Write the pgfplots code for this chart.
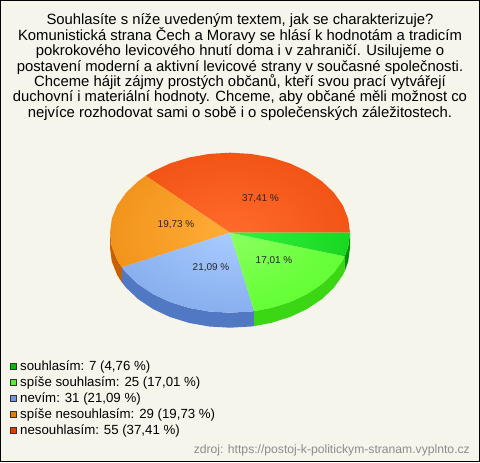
\documentclass[border=0pt]{standalone}
\usepackage{pgfplots}
\pgfplotsset{compat=1.18}
\usepackage{fontspec}
\setmainfont{Liberation Sans}
\definecolor{bgc}{RGB}{245,245,236}
\definecolor{sG}{RGB}{0,190,0}
\definecolor{sL}{RGB}{85,238,50}
\definecolor{sB}{RGB}{110,150,225}
\definecolor{sO}{RGB}{230,125,0}
\definecolor{sR}{RGB}{230,60,0}
\definecolor{wG}{RGB}{0,150,0}
\definecolor{wL}{RGB}{60,215,20}
\definecolor{wB}{RGB}{80,120,195}
\definecolor{wO}{RGB}{200,95,0}
\pgfdeclareradialshading{pG}{\pgfpointorigin}{rgb(0bp)=(0.2,0.95,0.25); rgb(50bp)=(0,0.74,0)}
\pgfdeclareradialshading{pL}{\pgfpointorigin}{rgb(0bp)=(0.55,1,0.38); rgb(22bp)=(0.4,1,0.22); rgb(50bp)=(0.33,0.93,0.15)}
\pgfdeclareradialshading{pB}{\pgfpointorigin}{rgb(0bp)=(0.66,0.8,1); rgb(50bp)=(0.41,0.57,0.87)}
\pgfdeclareradialshading{pO}{\pgfpointorigin}{rgb(0bp)=(1,0.68,0.22); rgb(50bp)=(0.9,0.48,0)}
\pgfdeclareradialshading{pR}{\pgfpointorigin}{rgb(0bp)=(1,0.42,0.17); rgb(50bp)=(0.9,0.24,0)}
\newcommand{\TX}[3]{\node[anchor=#1,inner sep=0pt,font=\fontsize{14.9}{15}\selectfont] at (axis cs:#2) {#3};}
\newcommand{\LG}[2]{\node[anchor=base west,inner sep=0pt,font=\fontsize{13.3}{15}\selectfont] at (axis cs:#1) {#2};}
\newcommand{\PL}[2]{\node[anchor=center,inner sep=0pt,text=black!85,font=\fontsize{10}{12}\selectfont] at (axis cs:#1) {#2};}
\begin{document}
\begin{tikzpicture}
\begin{axis}[
  scale only axis, width=480bp, height=462bp,
  xmin=0, xmax=480, ymin=0, ymax=462, y dir=reverse,
  unbounded coords=jump,
  hide axis, clip=false]
% background
\addplot[draw=black, line width=1bp, fill=bgc] coordinates {(0.5,0.5)(479.5,0.5)(479.5,461.5)(0.5,461.5)} -- cycle;
% side walls (depth 15 px)
\addplot[draw=none, fill=wO] coordinates {(121.9,267.4)(117.2,260.1)(111.8,246.6)(110,232.7)(110,247.7)(111.8,261.6)(117.2,275.1)(121.9,282.4)} -- cycle;
\addplot[draw=none, fill=wB] coordinates {(254.2,311.1)(250.8,311.5)(230,312.7)(209.2,311.5)(189,307.9)(170,302)(152.9,294)(138.1,284.1)(126.1,272.7)(121.9,267.4)(121.9,282.4)(126.1,287.7)(138.1,299.1)(152.9,309)(170,317)(189,322.9)(209.2,326.5)(230,327.7)(250.8,326.5)(254.2,326.1)} -- cycle;
\addplot[draw=none, fill=wL] coordinates {(344.7,256.3)(342.8,260.1)(333.9,272.7)(321.9,284.1)(307.1,294)(290,302)(271,307.9)(254.2,311.1)(254.2,326.1)(271,322.9)(290,317)(307.1,309)(321.9,299.1)(333.9,287.7)(342.8,275.1)(344.7,271.3)} -- cycle;
\addplot[draw=none, fill=wG] coordinates {(350,232.7)(348.2,246.6)(344.7,256.3)(344.7,271.3)(348.2,261.6)(350,247.7)} -- cycle;
% top faces: two lone points at the corners of the pie's box, so that all shadings share centre and size
\addplot[draw=none, shade, shading=pR] coordinates {(110,152.7)(110,nan)(350,312.7)(350,nan)(230,232.7)(145.7,175.8)(152.9,171.4)(170,163.4)(189,157.5)(209.2,153.9)(230,152.7)(250.8,153.9)(271,157.5)(290,163.4)(307.1,171.4)(321.9,181.3)(333.9,192.7)(342.8,205.3)(348.2,218.8)(350,232.7)} -- cycle;
\addplot[draw=none, shade, shading=pO] coordinates {(110,152.7)(110,nan)(350,312.7)(350,nan)(230,232.7)(121.9,267.4)(117.2,260.1)(111.8,246.6)(110,232.7)(111.8,218.8)(117.2,205.3)(126.1,192.7)(138.1,181.3)(145.7,175.8)} -- cycle;
\addplot[draw=none, shade, shading=pB] coordinates {(110,152.7)(110,nan)(350,312.7)(350,nan)(230,232.7)(254.2,311.1)(250.8,311.5)(230,312.7)(209.2,311.5)(189,307.9)(170,302)(152.9,294)(138.1,284.1)(126.1,272.7)(121.9,267.4)} -- cycle;
\addplot[draw=none, shade, shading=pL] coordinates {(110,152.7)(110,nan)(350,312.7)(350,nan)(230,232.7)(344.7,256.3)(342.8,260.1)(333.9,272.7)(321.9,284.1)(307.1,294)(290,302)(271,307.9)(254.2,311.1)} -- cycle;
\addplot[draw=none, shade, shading=pG] coordinates {(110,152.7)(110,nan)(350,312.7)(350,nan)(230,232.7)(350,232.7)(348.2,246.6)(344.7,256.3)} -- cycle;
% legend swatches
\addplot[draw=black!80, line width=0.7bp, fill=sG] coordinates {(10,363)(16.5,363)(16.5,369.5)(10,369.5)} -- cycle;
\addplot[draw=black!80, line width=0.7bp, fill=sL] coordinates {(10,379)(16.5,379)(16.5,385.5)(10,385.5)} -- cycle;
\addplot[draw=black!80, line width=0.7bp, fill=sB] coordinates {(10,395)(16.5,395)(16.5,401.5)(10,401.5)} -- cycle;
\addplot[draw=black!80, line width=0.7bp, fill=sO] coordinates {(10,411)(16.5,411)(16.5,417.5)(10,417.5)} -- cycle;
\addplot[draw=black!80, line width=0.7bp, fill=sR] coordinates {(10,427)(16.5,427)(16.5,433.5)(10,433.5)} -- cycle;
% title
\TX{base}{240,25}{Souhlasíte s níže uvedeným textem, jak se charakterizuje?}
\TX{base}{240,40.3}{Komunistická strana Čech a Moravy se hlásí k hodnotám a tradicím}
\TX{base}{240,55.6}{pokrokového levicového hnutí doma i v zahraničí. Usilujeme o}
\TX{base}{240,71}{postavení moderní a aktivní levicové strany v současné společnosti.}
\TX{base}{240,86.3}{Chceme hájit zájmy prostých občanů, kteří svou prací vytvářejí}
\TX{base}{240,101.6}{duchovní i materiální hodnoty. Chceme, aby občané měli možnost co}
\TX{base}{240,117}{nejvíce rozhodovat sami o sobě i o společenských záležitostech.}
% slice labels
\PL{260.5,199}{37,41 \%}
\PL{176,225}{19,73 \%}
\PL{211,268}{21,09 \%}
\PL{274,261}{17,01 \%}
% legend
\LG{20,370.7}{souhlasím: 7 (4,76 \%)}
\LG{20,386.7}{spíše souhlasím: 25 (17,01 \%)}
\LG{20,402.7}{nevím: 31 (21,09 \%)}
\LG{20,418.7}{spíše nesouhlasím: 29 (19,73 \%)}
\LG{20,434.7}{nesouhlasím: 55 (37,41 \%)}
\node[anchor=base east,inner sep=0pt,text=black!45,font=\fontsize{12.2}{14}\selectfont] at (axis cs:470,453) {zdroj: https://postoj-k-politickym-stranam.vyplnto.cz};
\end{axis}
\end{tikzpicture}
\end{document}
